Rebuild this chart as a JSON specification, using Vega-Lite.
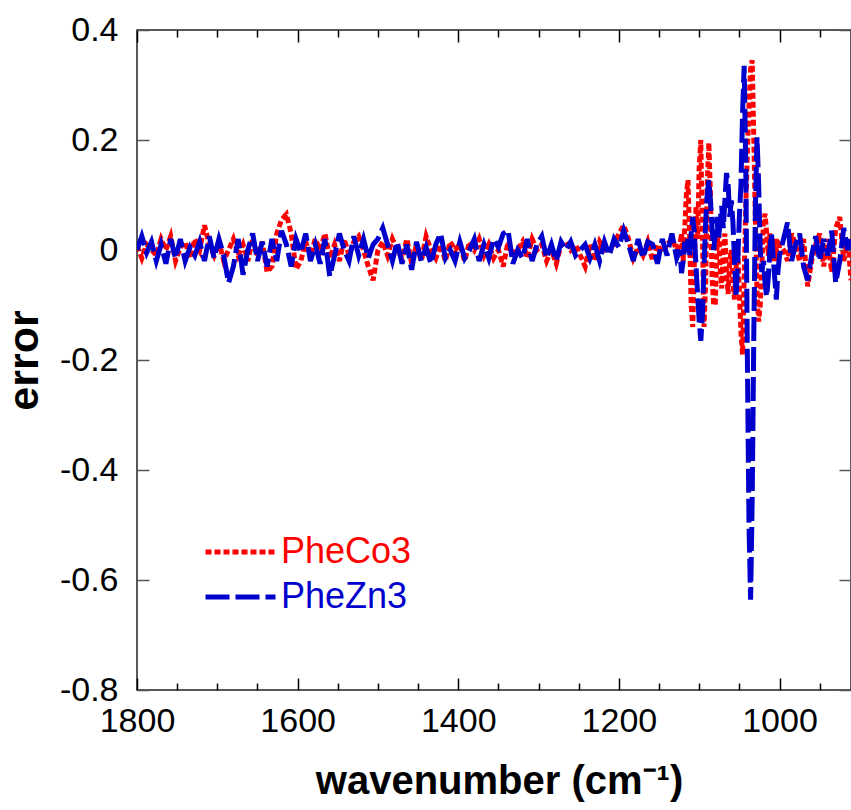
{
  "$schema": "https://vega.github.io/schema/vega-lite/v6.json",
  "autosize": "none",
  "padding": {"left": 137, "top": 30, "right": 0, "bottom": 120},
  "width": 714,
  "height": 660,
  "background": "white",
  "config": {
    "view": {"stroke": "#222", "strokeWidth": 1.5},
    "font": "Liberation Sans"
  },
  "data": {
    "values": [
      {"w":1800,"PheCo3":0.008,"PheZn3":0.0},
      {"w":1794,"PheCo3":-0.015,"PheZn3":0.025},
      {"w":1788,"PheCo3":0.01,"PheZn3":-0.005},
      {"w":1782,"PheCo3":0.0,"PheZn3":0.015},
      {"w":1776,"PheCo3":-0.01,"PheZn3":-0.02},
      {"w":1770,"PheCo3":0.02,"PheZn3":0.01},
      {"w":1764,"PheCo3":0.0,"PheZn3":-0.025},
      {"w":1758,"PheCo3":0.025,"PheZn3":0.02},
      {"w":1752,"PheCo3":-0.02,"PheZn3":-0.015},
      {"w":1746,"PheCo3":0.005,"PheZn3":0.02},
      {"w":1740,"PheCo3":0.015,"PheZn3":-0.02},
      {"w":1734,"PheCo3":-0.015,"PheZn3":0.005},
      {"w":1728,"PheCo3":0.02,"PheZn3":-0.01},
      {"w":1722,"PheCo3":0.0,"PheZn3":0.015},
      {"w":1716,"PheCo3":0.045,"PheZn3":-0.02},
      {"w":1710,"PheCo3":0.01,"PheZn3":0.025},
      {"w":1704,"PheCo3":-0.01,"PheZn3":-0.015},
      {"w":1698,"PheCo3":0.015,"PheZn3":0.02},
      {"w":1692,"PheCo3":-0.02,"PheZn3":-0.01},
      {"w":1686,"PheCo3":0.0,"PheZn3":-0.06},
      {"w":1680,"PheCo3":0.02,"PheZn3":-0.03},
      {"w":1674,"PheCo3":-0.01,"PheZn3":0.02},
      {"w":1668,"PheCo3":0.01,"PheZn3":-0.045},
      {"w":1662,"PheCo3":-0.02,"PheZn3":0.0},
      {"w":1656,"PheCo3":0.02,"PheZn3":0.03},
      {"w":1650,"PheCo3":-0.01,"PheZn3":-0.02},
      {"w":1644,"PheCo3":0.015,"PheZn3":0.015},
      {"w":1638,"PheCo3":-0.04,"PheZn3":-0.03},
      {"w":1632,"PheCo3":-0.03,"PheZn3":0.02},
      {"w":1626,"PheCo3":0.03,"PheZn3":-0.02},
      {"w":1620,"PheCo3":0.055,"PheZn3":0.035},
      {"w":1614,"PheCo3":0.065,"PheZn3":0.01},
      {"w":1608,"PheCo3":0.03,"PheZn3":-0.03},
      {"w":1602,"PheCo3":-0.035,"PheZn3":0.02},
      {"w":1596,"PheCo3":-0.02,"PheZn3":-0.005},
      {"w":1590,"PheCo3":0.015,"PheZn3":0.03},
      {"w":1584,"PheCo3":-0.01,"PheZn3":-0.02},
      {"w":1578,"PheCo3":0.02,"PheZn3":0.01},
      {"w":1572,"PheCo3":0.0,"PheZn3":-0.025},
      {"w":1566,"PheCo3":0.03,"PheZn3":0.02},
      {"w":1560,"PheCo3":-0.015,"PheZn3":-0.048},
      {"w":1554,"PheCo3":0.01,"PheZn3":-0.01},
      {"w":1548,"PheCo3":-0.02,"PheZn3":0.03},
      {"w":1542,"PheCo3":0.02,"PheZn3":0.0},
      {"w":1536,"PheCo3":-0.01,"PheZn3":-0.02},
      {"w":1530,"PheCo3":0.015,"PheZn3":0.025},
      {"w":1524,"PheCo3":0.025,"PheZn3":-0.01},
      {"w":1518,"PheCo3":0.0,"PheZn3":0.02},
      {"w":1512,"PheCo3":-0.03,"PheZn3":-0.015},
      {"w":1506,"PheCo3":-0.055,"PheZn3":0.01},
      {"w":1500,"PheCo3":0.0,"PheZn3":0.02},
      {"w":1494,"PheCo3":0.015,"PheZn3":0.04},
      {"w":1488,"PheCo3":-0.01,"PheZn3":0.01},
      {"w":1482,"PheCo3":0.02,"PheZn3":-0.02},
      {"w":1476,"PheCo3":0.0,"PheZn3":0.015},
      {"w":1470,"PheCo3":-0.015,"PheZn3":-0.025},
      {"w":1464,"PheCo3":0.02,"PheZn3":0.01},
      {"w":1458,"PheCo3":-0.025,"PheZn3":-0.036},
      {"w":1452,"PheCo3":0.01,"PheZn3":0.015},
      {"w":1446,"PheCo3":-0.02,"PheZn3":-0.02},
      {"w":1440,"PheCo3":0.025,"PheZn3":0.005},
      {"w":1434,"PheCo3":0.0,"PheZn3":-0.025},
      {"w":1428,"PheCo3":-0.015,"PheZn3":0.01},
      {"w":1422,"PheCo3":0.01,"PheZn3":0.03},
      {"w":1416,"PheCo3":-0.02,"PheZn3":-0.015},
      {"w":1410,"PheCo3":0.015,"PheZn3":0.0},
      {"w":1404,"PheCo3":0.0,"PheZn3":-0.02},
      {"w":1398,"PheCo3":0.01,"PheZn3":0.015},
      {"w":1392,"PheCo3":-0.02,"PheZn3":-0.015},
      {"w":1386,"PheCo3":0.015,"PheZn3":0.0},
      {"w":1380,"PheCo3":0.0,"PheZn3":0.02},
      {"w":1374,"PheCo3":0.02,"PheZn3":-0.02},
      {"w":1368,"PheCo3":-0.01,"PheZn3":0.01},
      {"w":1362,"PheCo3":0.01,"PheZn3":-0.015},
      {"w":1356,"PheCo3":-0.015,"PheZn3":0.02},
      {"w":1350,"PheCo3":0.0,"PheZn3":0.005},
      {"w":1344,"PheCo3":-0.03,"PheZn3":0.03},
      {"w":1338,"PheCo3":0.015,"PheZn3":0.036},
      {"w":1332,"PheCo3":-0.005,"PheZn3":-0.025},
      {"w":1326,"PheCo3":0.0,"PheZn3":0.0},
      {"w":1320,"PheCo3":0.015,"PheZn3":-0.015},
      {"w":1314,"PheCo3":-0.015,"PheZn3":0.02},
      {"w":1308,"PheCo3":0.02,"PheZn3":-0.02},
      {"w":1302,"PheCo3":0.0,"PheZn3":0.01},
      {"w":1296,"PheCo3":0.01,"PheZn3":0.025},
      {"w":1290,"PheCo3":-0.02,"PheZn3":-0.015},
      {"w":1284,"PheCo3":0.0,"PheZn3":0.01},
      {"w":1278,"PheCo3":-0.025,"PheZn3":-0.02},
      {"w":1272,"PheCo3":0.01,"PheZn3":0.015},
      {"w":1266,"PheCo3":0.015,"PheZn3":0.0},
      {"w":1260,"PheCo3":0.0,"PheZn3":0.015},
      {"w":1254,"PheCo3":0.01,"PheZn3":-0.01},
      {"w":1248,"PheCo3":-0.01,"PheZn3":0.0},
      {"w":1242,"PheCo3":-0.03,"PheZn3":0.01},
      {"w":1236,"PheCo3":0.01,"PheZn3":-0.015},
      {"w":1230,"PheCo3":-0.02,"PheZn3":0.01},
      {"w":1224,"PheCo3":0.015,"PheZn3":-0.02},
      {"w":1218,"PheCo3":0.0,"PheZn3":0.015},
      {"w":1212,"PheCo3":0.005,"PheZn3":-0.01},
      {"w":1206,"PheCo3":0.01,"PheZn3":0.02},
      {"w":1200,"PheCo3":0.03,"PheZn3":0.005},
      {"w":1194,"PheCo3":0.045,"PheZn3":0.036},
      {"w":1188,"PheCo3":0.02,"PheZn3":0.01},
      {"w":1182,"PheCo3":-0.015,"PheZn3":-0.02},
      {"w":1176,"PheCo3":0.005,"PheZn3":0.02},
      {"w":1170,"PheCo3":-0.01,"PheZn3":-0.015},
      {"w":1164,"PheCo3":0.015,"PheZn3":0.015},
      {"w":1158,"PheCo3":-0.02,"PheZn3":0.01},
      {"w":1152,"PheCo3":0.01,"PheZn3":-0.025},
      {"w":1146,"PheCo3":-0.005,"PheZn3":0.02},
      {"w":1140,"PheCo3":0.01,"PheZn3":-0.01},
      {"w":1134,"PheCo3":0.02,"PheZn3":0.03},
      {"w":1128,"PheCo3":0.0,"PheZn3":-0.015},
      {"w":1124,"PheCo3":0.01,"PheZn3":0.0},
      {"w":1122,"PheCo3":0.03,"PheZn3":-0.042},
      {"w":1120,"PheCo3":-0.02,"PheZn3":-0.02},
      {"w":1118,"PheCo3":0.04,"PheZn3":0.015},
      {"w":1116,"PheCo3":0.1,"PheZn3":-0.01},
      {"w":1114,"PheCo3":0.127,"PheZn3":0.02},
      {"w":1112,"PheCo3":0.03,"PheZn3":-0.01},
      {"w":1110,"PheCo3":-0.1,"PheZn3":0.03},
      {"w":1108,"PheCo3":-0.14,"PheZn3":0.06},
      {"w":1106,"PheCo3":-0.02,"PheZn3":0.03},
      {"w":1104,"PheCo3":0.08,"PheZn3":-0.03},
      {"w":1102,"PheCo3":0.02,"PheZn3":-0.08},
      {"w":1100,"PheCo3":0.15,"PheZn3":-0.13},
      {"w":1098,"PheCo3":0.2,"PheZn3":-0.165},
      {"w":1096,"PheCo3":0.03,"PheZn3":-0.12},
      {"w":1094,"PheCo3":-0.14,"PheZn3":-0.03},
      {"w":1092,"PheCo3":-0.06,"PheZn3":0.05},
      {"w":1090,"PheCo3":0.12,"PheZn3":0.1},
      {"w":1088,"PheCo3":0.195,"PheZn3":0.127},
      {"w":1086,"PheCo3":0.1,"PheZn3":0.09},
      {"w":1084,"PheCo3":-0.05,"PheZn3":0.04},
      {"w":1082,"PheCo3":-0.1,"PheZn3":0.0},
      {"w":1080,"PheCo3":-0.1,"PheZn3":0.03},
      {"w":1078,"PheCo3":0.0,"PheZn3":0.06},
      {"w":1076,"PheCo3":0.04,"PheZn3":0.02},
      {"w":1074,"PheCo3":-0.03,"PheZn3":0.05},
      {"w":1072,"PheCo3":-0.07,"PheZn3":0.08},
      {"w":1070,"PheCo3":0.0,"PheZn3":0.04},
      {"w":1068,"PheCo3":0.03,"PheZn3":0.09},
      {"w":1066,"PheCo3":-0.04,"PheZn3":0.14},
      {"w":1064,"PheCo3":-0.08,"PheZn3":0.12},
      {"w":1062,"PheCo3":-0.02,"PheZn3":0.06},
      {"w":1060,"PheCo3":0.0,"PheZn3":0.09},
      {"w":1058,"PheCo3":-0.06,"PheZn3":0.05},
      {"w":1056,"PheCo3":-0.09,"PheZn3":-0.02},
      {"w":1054,"PheCo3":-0.03,"PheZn3":-0.085},
      {"w":1052,"PheCo3":0.0,"PheZn3":-0.02},
      {"w":1050,"PheCo3":-0.08,"PheZn3":0.06},
      {"w":1048,"PheCo3":-0.15,"PheZn3":0.12},
      {"w":1046,"PheCo3":-0.19,"PheZn3":0.25},
      {"w":1044,"PheCo3":-0.05,"PheZn3":0.335},
      {"w":1042,"PheCo3":0.08,"PheZn3":0.15},
      {"w":1040,"PheCo3":0.18,"PheZn3":-0.2},
      {"w":1038,"PheCo3":0.26,"PheZn3":-0.5},
      {"w":1036,"PheCo3":0.33,"PheZn3":-0.636},
      {"w":1034,"PheCo3":0.345,"PheZn3":-0.45},
      {"w":1032,"PheCo3":0.2,"PheZn3":-0.15},
      {"w":1030,"PheCo3":0.05,"PheZn3":0.08},
      {"w":1028,"PheCo3":-0.08,"PheZn3":0.205},
      {"w":1026,"PheCo3":-0.13,"PheZn3":0.12},
      {"w":1024,"PheCo3":-0.1,"PheZn3":0.0},
      {"w":1022,"PheCo3":-0.03,"PheZn3":-0.04},
      {"w":1020,"PheCo3":0.05,"PheZn3":-0.02},
      {"w":1018,"PheCo3":0.066,"PheZn3":-0.06},
      {"w":1016,"PheCo3":0.03,"PheZn3":-0.085},
      {"w":1014,"PheCo3":-0.01,"PheZn3":-0.05},
      {"w":1012,"PheCo3":0.03,"PheZn3":0.0},
      {"w":1010,"PheCo3":0.01,"PheZn3":0.03},
      {"w":1008,"PheCo3":-0.02,"PheZn3":-0.01},
      {"w":1006,"PheCo3":0.02,"PheZn3":-0.05},
      {"w":1004,"PheCo3":0.0,"PheZn3":-0.09},
      {"w":1002,"PheCo3":-0.02,"PheZn3":-0.04},
      {"w":1000,"PheCo3":0.01,"PheZn3":-0.01},
      {"w":995,"PheCo3":0.0,"PheZn3":0.02},
      {"w":990,"PheCo3":-0.02,"PheZn3":0.05},
      {"w":985,"PheCo3":0.03,"PheZn3":-0.02},
      {"w":980,"PheCo3":0.01,"PheZn3":0.01},
      {"w":975,"PheCo3":-0.02,"PheZn3":0.03},
      {"w":970,"PheCo3":0.02,"PheZn3":-0.03},
      {"w":965,"PheCo3":-0.066,"PheZn3":-0.055},
      {"w":960,"PheCo3":-0.02,"PheZn3":-0.01},
      {"w":955,"PheCo3":0.01,"PheZn3":0.025},
      {"w":950,"PheCo3":0.03,"PheZn3":-0.02},
      {"w":945,"PheCo3":-0.03,"PheZn3":0.02},
      {"w":940,"PheCo3":0.02,"PheZn3":-0.01},
      {"w":935,"PheCo3":-0.04,"PheZn3":0.035},
      {"w":930,"PheCo3":0.04,"PheZn3":-0.06},
      {"w":925,"PheCo3":0.06,"PheZn3":-0.02},
      {"w":920,"PheCo3":-0.02,"PheZn3":0.04},
      {"w":915,"PheCo3":0.02,"PheZn3":0.0},
      {"w":911,"PheCo3":-0.055,"PheZn3":0.025}
    ]
  },
  "transform": [{"fold": ["PheCo3", "PheZn3"], "as": ["series", "err"]}],
  "resolve": {"axis": {"x": "independent", "y": "independent"}},
  "layer": [
    {
      "mark": {"type": "line", "strokeWidth": 5, "strokeCap": "butt", "clip": true},
      "encoding": {
        "x": {
          "field": "w", "type": "quantitative",
          "scale": {"domain": [911, 1800], "reverse": true, "nice": false, "zero": false},
          "axis": {
            "orient": "bottom",
            "title": "wavenumber (cm⁻¹)",
            "values": [1800,1750,1700,1650,1600,1550,1500,1450,1400,1350,1300,1250,1200,1150,1100,1050,1000,950],
            "labelExpr": "datum.value % 200 == 0 ? '' + datum.value : ''",
            "labelFont": "Liberation Sans", "labelFontSize": 34, "labelColor": "#000",
            "labelBaseline": "alphabetic", "labelPadding": 53, "labelFlush": false, "labelOverlap": false,
            "tickSize": {"condition": {"test": "datum.value % 200 == 0", "value": -12}, "value": -7},
            "tickColor": "#000", "tickWidth": 1.5,
            "domain": false, "grid": false,
            "titleFont": "Liberation Sans", "titleFontSize": 40, "titleFontWeight": "bold", "titleColor": "#000",
            "titleX": 362, "titleY": 103, "titleAlign": "center", "titleBaseline": "alphabetic", "titleAnchor": null
          }
        },
        "y": {
          "field": "err", "type": "quantitative",
          "scale": {"domain": [-0.8, 0.4], "nice": false, "zero": false},
          "axis": {
            "orient": "left",
            "title": "error",
            "values": [-0.8, -0.6, -0.4, -0.2, 0, 0.2, 0.4],
            "labelExpr": "datum.value == 0 ? '0' : (datum.value < 0 ? '-' : '') + format(abs(datum.value), '.1f')",
            "labelFont": "Liberation Sans", "labelFontSize": 34, "labelColor": "#000",
            "labelPadding": 31, "labelFlush": false, "labelOverlap": false, "labelBaseline": "middle",
            "tickSize": -12, "tickColor": "#555", "tickWidth": 1.5,
            "domain": false, "grid": false,
            "titleFont": "Liberation Sans", "titleFontSize": 43, "titleFontWeight": "bold", "titleColor": "#000",
            "titleAngle": -90, "titleX": -100, "titleY": 330, "titleAlign": "center", "titleBaseline": "alphabetic", "titleAnchor": null
          }
        },
        "color": {
          "field": "series", "type": "nominal",
          "scale": {"domain": ["PheCo3", "PheZn3"], "range": ["#ff0000", "#0000cc"]},
          "legend": {
            "title": null, "orient": "none", "legendX": 66, "legendY": 502,
            "symbolType": "M-1,0L3,0", "symbolSize": 1225, "symbolStrokeWidth": 5,
            "labelFont": "Liberation Sans", "labelFontSize": 36, "labelOffset": 38,
            "rowPadding": 7, "padding": 0,
            "encode": {"labels": {"update": {"fill": {"signal": "datum.label == 'PheCo3' ? '#ff0000' : '#0000cc'"}}}}
          }
        },
        "strokeDash": {
          "field": "series", "type": "nominal",
          "scale": {"domain": ["PheCo3", "PheZn3"], "range": [[6, 3], [24, 6]]},
          "legend": {
            "title": null, "orient": "none", "legendX": 66, "legendY": 502,
            "symbolType": "M-1,0L3,0", "symbolSize": 1225, "symbolStrokeWidth": 5,
            "labelFont": "Liberation Sans", "labelFontSize": 36, "labelOffset": 38,
            "rowPadding": 7, "padding": 0,
            "encode": {"labels": {"update": {"fill": {"signal": "datum.label == 'PheCo3' ? '#ff0000' : '#0000cc'"}}}}
          }
        }
      }
    },
    {
      "mark": {"type": "line", "opacity": 0},
      "encoding": {
        "x": {
          "field": "w", "type": "quantitative",
          "axis": {
            "orient": "top", "title": null, "labels": false, "domain": false, "grid": false,
            "values": [1800,1750,1700,1650,1600,1550,1500,1450,1400,1350,1300,1250,1200,1150,1100,1050,1000,950],
            "tickSize": {"condition": {"test": "datum.value % 200 == 0", "value": -12}, "value": -7},
            "tickColor": "#000", "tickWidth": 1.5
          }
        },
        "y": {
          "field": "err", "type": "quantitative",
          "axis": {
            "orient": "right", "title": null, "labels": false, "domain": false, "grid": false,
            "values": [-0.8, -0.6, -0.4, -0.2, 0, 0.2, 0.4],
            "tickSize": -12, "tickColor": "#555", "tickWidth": 1.5
          }
        }
      }
    }
  ]
}
